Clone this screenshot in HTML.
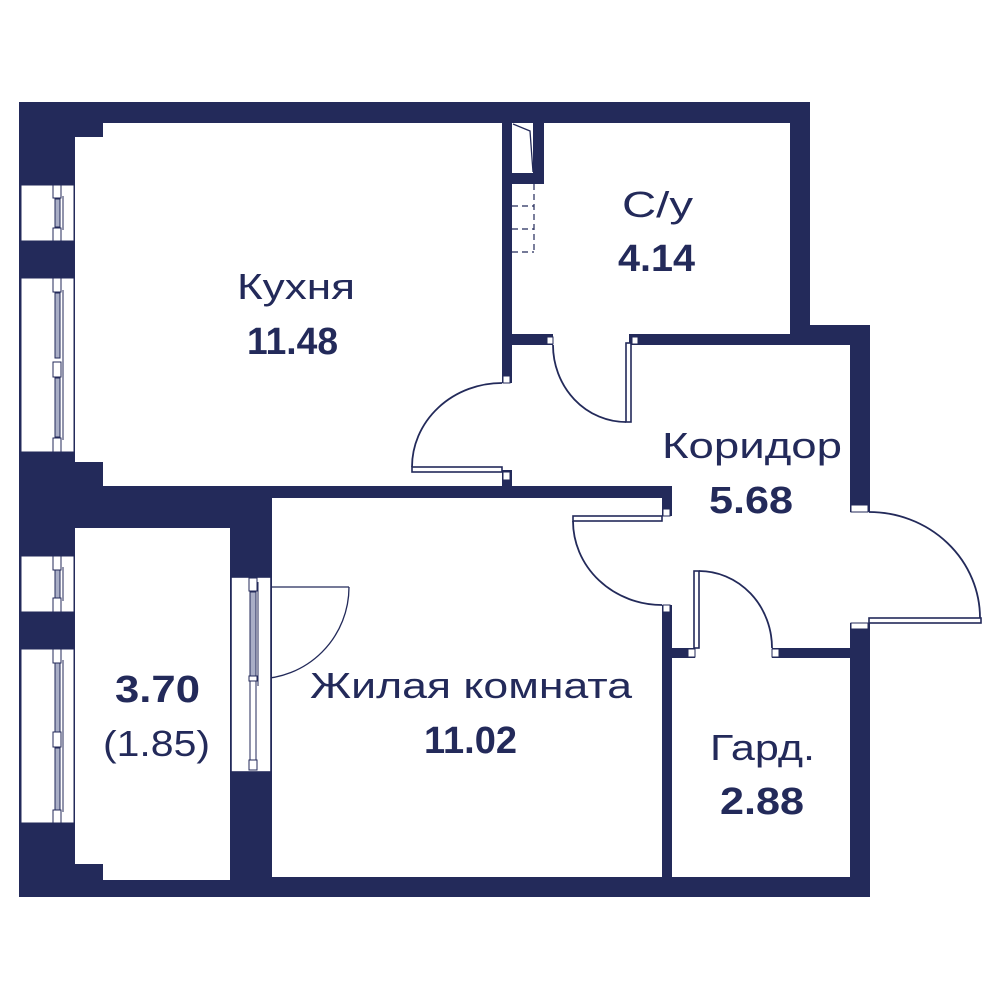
<!DOCTYPE html>
<html><head><meta charset="utf-8"><style>
html,body{margin:0;padding:0;background:#fff;}
svg{display:block;}
text{font-family:"Liberation Sans","DejaVu Sans",sans-serif;fill:#232a5a;}
</style></head><body>
<svg width="1000" height="1000" viewBox="0 0 1000 1000" xmlns="http://www.w3.org/2000/svg">
<rect width="1000" height="1000" fill="#fff"/>
<!-- dark base -->
<polygon points="19,102 810,102 810,325 870,325 870,897 19,897" fill="#232a5a"/>
<g fill="#fff">
<!-- kitchen -->
<polygon points="103,123 502,123 502,486 103,486 103,462 75,462 75,137 103,137"/>
<!-- bathroom -->
<rect x="512" y="123" width="278" height="211"/>
<!-- corridor -->
<rect x="512" y="345" width="338" height="141"/>
<rect x="672" y="486" width="178" height="162"/>
<!-- living -->
<rect x="272" y="498" width="390" height="379"/>
<!-- wardrobe -->
<rect x="672" y="658" width="178" height="219"/>
<!-- balcony -->
<polygon points="75,528 230,528 230,880 103,880 103,864 75,864"/>
<!-- openings -->
<rect x="553" y="333" width="76" height="13"/>
<rect x="501" y="383" width="12" height="87"/>
<rect x="661" y="516" width="12" height="89"/>
<rect x="695" y="647" width="77" height="12"/>
<rect x="849" y="512" width="22" height="111"/>
</g>
<!-- shaft -->
<rect x="512" y="123" width="32" height="61" fill="#232a5a"/>
<rect x="512" y="123" width="21" height="50" fill="#fff"/>
<polyline points="513,124 530,131 533,172" fill="none" stroke="#232a5a" stroke-width="1.3"/>
<g stroke="#232a5a" stroke-width="1.2" stroke-dasharray="6,4" fill="none">
<line x1="534" y1="184" x2="534" y2="253"/>
<line x1="512" y1="206" x2="534" y2="206"/>
<line x1="512" y1="229" x2="534" y2="229"/>
<line x1="512" y1="252" x2="534" y2="252"/>
</g>
<!-- jamb squares -->
<g fill="#fff" stroke="#232a5a" stroke-width="1">
<rect x="547" y="337" width="6" height="7"/>
<rect x="632" y="337" width="6" height="7"/>
<rect x="503" y="376" width="7" height="7"/>
<rect x="503" y="472" width="7" height="8"/>
<rect x="663" y="509" width="7" height="7"/>
<rect x="663" y="605" width="7" height="7"/>
<rect x="688" y="649" width="7" height="8"/>
<rect x="772" y="649" width="7" height="8"/>
<rect x="851" y="505" width="17" height="7"/>
<rect x="851" y="623" width="17" height="6"/>
</g>
<!-- doors -->
<g fill="#fff" stroke="#232a5a" stroke-width="1.6">
<rect x="412" y="467" width="90" height="5"/>
<rect x="626" y="343" width="5" height="79"/>
<rect x="573" y="516" width="89" height="5"/>
<rect x="694" y="571" width="5" height="77"/>
<rect x="869" y="618" width="112" height="5"/>
</g>
<g fill="none" stroke="#232a5a" stroke-width="1.8">
<path d="M502 383 A90 84 0 0 0 412 467"/>
<path d="M553 345 A73 77 0 0 0 626 422"/>
<path d="M573 521 A89 84 0 0 0 662 605"/>
<path d="M699 571 A73 77 0 0 1 772 648"/>
<path d="M869 512 A111 106 0 0 1 980 618"/>
<line x1="257" y1="587" x2="349" y2="587" stroke-width="1.3"/>
<path d="M349 587 A92 92 0 0 1 257 679" stroke-width="1.3"/>
</g>
<!-- windows -->
<g stroke="#232a5a" stroke-width="1">
<rect x="21" y="185" width="53" height="56" fill="#fff"/>
<rect x="53" y="185" width="8" height="13" fill="#fff"/>
<rect x="55" y="199" width="5" height="28" fill="#a9aec6"/>
<rect x="53" y="228" width="8" height="13" fill="#fff"/>
<line x1="63" y1="196" x2="63" y2="230"/>

<rect x="21" y="278" width="53" height="174" fill="#fff"/>
<rect x="53" y="278" width="8" height="14" fill="#fff"/>
<rect x="55" y="293" width="5" height="65" fill="#a9aec6"/>
<rect x="53" y="362" width="8" height="15" fill="#fff"/>
<rect x="55" y="378" width="5" height="59" fill="#a9aec6"/>
<rect x="53" y="438" width="8" height="14" fill="#fff"/>
<line x1="63" y1="290" x2="63" y2="440"/>

<rect x="21" y="556" width="53" height="56" fill="#fff"/>
<rect x="53" y="556" width="8" height="14" fill="#fff"/>
<rect x="55" y="570" width="5" height="28" fill="#a9aec6"/>
<rect x="53" y="598" width="8" height="14" fill="#fff"/>
<line x1="63" y1="567" x2="63" y2="601"/>

<rect x="21" y="649" width="53" height="174" fill="#fff"/>
<rect x="53" y="649" width="8" height="14" fill="#fff"/>
<rect x="55" y="663" width="5" height="69" fill="#a9aec6"/>
<rect x="53" y="732" width="8" height="15" fill="#fff"/>
<rect x="55" y="748" width="5" height="62" fill="#a9aec6"/>
<rect x="53" y="810" width="8" height="13" fill="#fff"/>
<line x1="63" y1="660" x2="63" y2="812"/>

<!-- glazed door -->
<rect x="231" y="577" width="40" height="195" fill="#fff" stroke-width="1.6"/>
<rect x="249" y="578" width="8" height="13" fill="#fff"/>
<rect x="250" y="592" width="6" height="84" fill="#a9aec6"/>
<rect x="249" y="676" width="8" height="5" fill="#fff"/>
<rect x="250" y="681" width="6" height="79" fill="#fff"/>
<rect x="249" y="760" width="8" height="10" fill="#fff"/>
<line x1="258" y1="582" x2="258" y2="686"/>
</g>
<!-- labels -->
<text x="237" y="299" font-size="36" textLength="118" lengthAdjust="spacingAndGlyphs">Кухня</text>
<text x="247" y="354" font-size="38" font-weight="bold" textLength="91" lengthAdjust="spacingAndGlyphs">11.48</text>
<text x="622" y="217" font-size="36" textLength="71" lengthAdjust="spacingAndGlyphs">С/у</text>
<text x="618" y="271" font-size="38" font-weight="bold" textLength="77" lengthAdjust="spacingAndGlyphs">4.14</text>
<text x="662" y="458" font-size="36" textLength="180" lengthAdjust="spacingAndGlyphs">Коридор</text>
<text x="709" y="513" font-size="38" font-weight="bold" textLength="84" lengthAdjust="spacingAndGlyphs">5.68</text>
<text x="310" y="698" font-size="36" textLength="322" lengthAdjust="spacingAndGlyphs">Жилая комната</text>
<text x="424" y="753" font-size="38" font-weight="bold" textLength="93" lengthAdjust="spacingAndGlyphs">11.02</text>
<text x="115" y="702" font-size="38" font-weight="bold" textLength="85" lengthAdjust="spacingAndGlyphs">3.70</text>
<text x="103" y="756" font-size="36" textLength="107" lengthAdjust="spacingAndGlyphs">(1.85)</text>
<text x="710" y="760" font-size="36" textLength="105" lengthAdjust="spacingAndGlyphs">Гард.</text>
<text x="720" y="814" font-size="38" font-weight="bold" textLength="84" lengthAdjust="spacingAndGlyphs">2.88</text>
</svg>
</body></html>
